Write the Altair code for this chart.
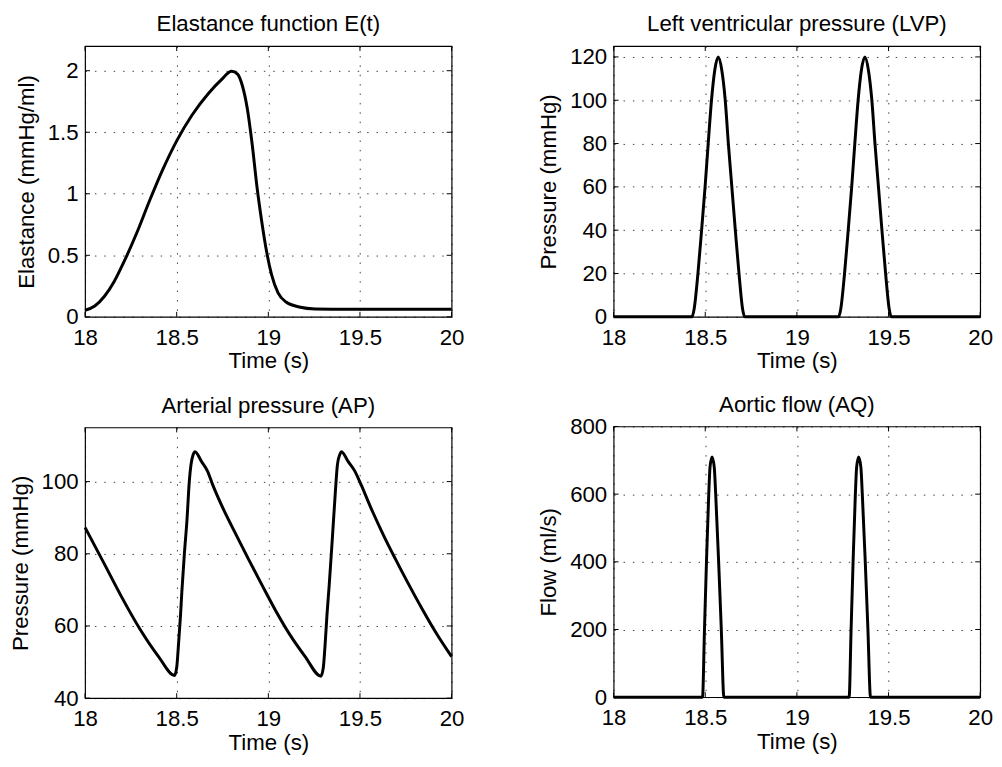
import altair as alt
import pandas as pd

# ---------------- data ----------------
# Elastance function E(t)
e_t = [18.0, 18.053, 18.106, 18.159, 18.212, 18.283, 18.354, 18.425, 18.5, 18.584,
       18.673, 18.743, 18.8, 18.832, 18.858, 18.885, 18.912, 18.938, 18.965, 18.991,
       19.018, 19.053, 19.097, 19.168, 19.257, 19.434, 20.0]
e_v = [0.053, 0.088, 0.167, 0.287, 0.446, 0.685, 0.951, 1.20, 1.43, 1.64,
       1.815, 1.925, 1.995, 1.973, 1.88, 1.695, 1.40, 1.057, 0.765, 0.526,
       0.34, 0.194, 0.12, 0.08, 0.064, 0.061, 0.061]

# Left ventricular pressure (LVP)
lvp_t = [18.0, 18.4275, 18.44, 18.46, 18.48, 18.499, 18.516, 18.534, 18.552, 18.571,
         18.59, 18.609, 18.626, 18.645, 18.664, 18.684, 18.703, 18.715,
         19.2275, 19.24, 19.26, 19.28, 19.299, 19.316, 19.334, 19.352, 19.371,
         19.39, 19.409, 19.426, 19.445, 19.464, 19.484, 19.503, 19.515, 20.0]
lvp_v = [0, 0, 4, 20, 40, 60, 80, 100, 114, 120,
         114, 100, 80, 60, 40, 20, 4, 0,
         0, 4, 20, 40, 60, 80, 100, 114, 120,
         114, 100, 80, 60, 40, 20, 4, 0, 0]

# Arterial pressure (AP)
ap_t = [18.0, 18.1, 18.2, 18.3, 18.4, 18.488, 18.5,
        18.51, 18.521, 18.528, 18.542, 18.556, 18.569, 18.578, 18.59, 18.6, 18.635,
        18.668, 18.695, 18.758, 18.83, 18.893, 18.965, 19.044, 19.12, 19.2,
        19.287, 19.3, 19.31, 19.32, 19.332, 19.35, 19.365, 19.377, 19.39,
        19.399, 19.435, 19.472, 19.497, 19.566, 19.628, 19.691, 19.763, 19.844, 19.92,
        20.0]
ap_v = [87.3, 77.7, 68.0, 59.1, 51.6, 46.3, 48.5,
        55, 63.1, 69.4, 80.1, 89.3, 100.2, 104.7, 107.5, 108.3, 105.6,
        102.9, 99.3, 92.0, 84.7, 78.4, 71.4, 63.9, 57.4, 51.6,
        46.1, 48.5, 55, 63.1, 71.2, 84.8, 96.6, 104.7, 107.5,
        108.3, 105.6, 102.9, 100.2, 92.0, 85.2, 78.8, 71.8, 64.3, 57.7,
        51.5]

# Aortic flow (AQ)
aq_t = [18.0, 18.485, 18.4957, 18.5066, 18.519, 18.526, 18.537, 18.549, 18.5569, 18.573,
        18.5875, 18.6017, 19.285, 19.2957, 19.3066, 19.319, 19.326, 19.337, 19.349, 19.3569,
        19.373, 19.3875, 19.4017, 20.0]
aq_v = [0, 0, 200, 400, 600, 680, 710, 680, 600, 400,
        200, 0, 0, 200, 400, 600, 680, 710, 680, 600,
        400, 200, 0, 0]

x_ticks = [18, 18.5, 19, 19.5, 20]
e_ticks = [0, 0.5, 1, 1.5, 2]
lvp_ticks = [0, 20, 40, 60, 80, 100, 120]
ap_ticks = [40, 60, 80, 100]
aq_ticks = [0, 200, 400, 600, 800]

# ---------------- styling ----------------
FONT = "Liberation Sans"
FS = 22.5
H = 274
W = 371
TICK = 5
LBL = "'' + datum.value"


def make_panel(t, v, title, ytitle, ydom, yticks, toff):
    df = pd.DataFrame({"t": t, "v": v})
    xs = alt.Scale(domain=[18, 20], nice=False, zero=False)
    ys = alt.Scale(domain=ydom, nice=False, zero=False)
    xaxis = alt.Axis(values=x_ticks, labelExpr=LBL, title="Time (s)")
    yaxis = alt.Axis(values=yticks, labelExpr=LBL, title=ytitle)
    line = alt.Chart(df).mark_line(
        color="black", strokeWidth=3, interpolate="monotone"
    ).encode(
        x=alt.X("t:Q", scale=xs, axis=xaxis),
        y=alt.Y("v:Q", scale=ys, axis=yaxis),
    )
    xt = pd.DataFrame({"t": x_ticks})
    yt = pd.DataFrame({"v": yticks})
    rule = dict(color="black", strokeWidth=1)
    bottom = alt.Chart(xt).mark_rule(**rule).encode(
        x=alt.X("t:Q", scale=xs, axis=xaxis), y=alt.value(H), y2=alt.value(H - TICK))
    top = alt.Chart(xt).mark_rule(**rule).encode(
        x=alt.X("t:Q", scale=xs, axis=xaxis), y=alt.value(0), y2=alt.value(TICK))
    left = alt.Chart(yt).mark_rule(**rule).encode(
        y=alt.Y("v:Q", scale=ys, axis=yaxis), x=alt.value(0), x2=alt.value(TICK))
    right = alt.Chart(yt).mark_rule(**rule).encode(
        y=alt.Y("v:Q", scale=ys, axis=yaxis), x=alt.value(W - TICK), x2=alt.value(W))
    return alt.layer(line, bottom, top, left, right).properties(
        width=W, height=H,
        title=alt.TitleParams(text=title, font=FONT, fontSize=FS, fontWeight="normal",
                              color="black", anchor="middle", offset=toff, frame="group"),
    )


p1 = make_panel(e_t, e_v, "Elastance function E(t)", "Elastance (mmHg/ml)", [0, 2.2], e_ticks, 10)
p2 = make_panel(lvp_t, lvp_v, "Left ventricular pressure (LVP)", "Pressure (mmHg)", [0, 125], lvp_ticks, 10)
p3 = make_panel(ap_t, ap_v, "Arterial pressure (AP)", "Pressure (mmHg)", [40, 115], ap_ticks, 10)
p4 = make_panel(aq_t, aq_v, "Aortic flow (AQ)", "Flow (ml/s)", [0, 800], aq_ticks, -1.25)

chart = alt.concat(
    p1, p2, p3, p4, columns=2, align="none",
    spacing={"row": 21, "column": 72},
).properties(
    padding={"left": 0, "top": 0, "right": 0, "bottom": 0},
    background="white",
).configure_view(
    stroke="black", strokeWidth=1.2
).configure_axis(
    grid=True, gridColor="black", gridOpacity=0.75, gridDash=[1.5, 8], gridWidth=1,
    ticks=False, tickSize=0, domain=False,
    labelFont=FONT, labelFontSize=FS, labelColor="black", labelPadding=10,
    labelFlush=False, labelOverlap=False, labelBound=False,
    titleFont=FONT, titleFontSize=FS, titleFontWeight="normal", titleColor="black",
    titlePadding=1,
).configure_axisY(
    labelPadding=7, titlePadding=9,
)

chart.save("out.html", embed_options={"renderer": "svg", "actions": False})
